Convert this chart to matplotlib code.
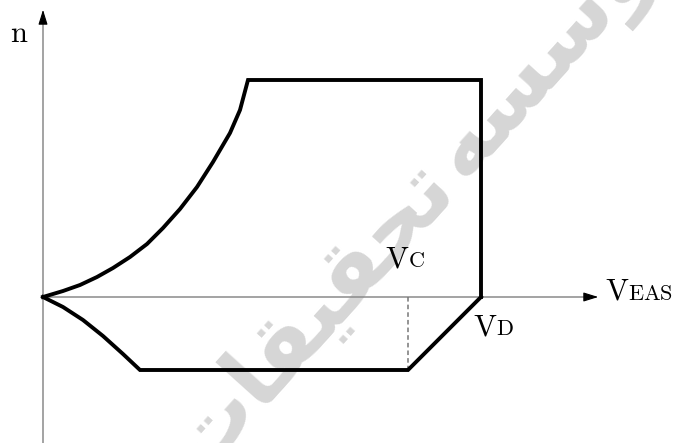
import matplotlib
matplotlib.use("Agg")
import matplotlib.pyplot as plt

plt.rcParams["mathtext.fontset"] = "cm"

# curve values (units = pixels from the origin)
upper_x = [0, 20, 37, 54, 70, 87, 104, 120, 137, 154, 170, 187, 197, 205]
upper_y = [0, 6, 12, 20, 29, 40, 53, 69, 88, 110, 135, 164, 187, 217]
n_max = 217
v_d = 438
v_c = 365
lower_x = [0, 20, 40, 60, 80, 97]
lower_y = [0, -10, -23, -39, -57, -73]
n_min = -73

# Persian watermark "موسسه تحقیقات", presentation forms in visual order
wm_left = "\uFE95\uFE8E\uFED8\uFEF4\uFED8\uFEA4\uFE97"
wm_right = "\uFEEA\uFEB4\uFEB3\uFEEE\uFEE3"

fig = plt.figure(figsize=(6.74, 4.43), dpi=100)
ax = fig.add_axes([0, 0, 1, 1])
ax.set_xlim(-43, 631)
ax.set_ylim(-146, 297)
ax.axis("off")

wm = dict(rotation=48, rotation_mode="anchor", va="center", fontsize=64,
          color="#d6d6d6", family="DejaVu Sans", fontweight="bold", zorder=1)
ax.text(396, 124, wm_left, ha="right", **wm)
ax.text(404, 130, wm_right, ha="left", **wm)

# axes with arrows
ax.plot([0, 545], [0, 0], color="#8a8a8a", lw=1.1, zorder=2)
ax.plot([0, 0], [-146, 278], color="#8a8a8a", lw=1.1, zorder=2)
arrow = dict(arrowstyle="-|>,head_length=0.9,head_width=0.28", color="black", lw=0.8)
ax.annotate("", xy=(558, 0), xytext=(540, 0), arrowprops=arrow, zorder=3)
ax.annotate("", xy=(0, 290), xytext=(0, 272), arrowprops=arrow, zorder=3)

# envelope
ax.plot(upper_x + [v_d, v_d], upper_y + [n_max, 0], color="black", lw=2.8,
        solid_joinstyle="miter", zorder=4)
ax.plot(lower_x + [v_c, v_d], lower_y + [n_min, 0], color="black", lw=2.8,
        solid_joinstyle="miter", zorder=4)
ax.plot([v_c, v_c], [0, n_min], color="#777777", lw=1.1, ls=(0, (3, 2)), zorder=3)


def sc_label(x, y, big, small):
    # big V followed by small caps
    t = ax.text(x, y, r"$\mathrm{%s}$" % big, fontsize=22, ha="left", va="baseline")
    fig.canvas.draw()
    bb = t.get_window_extent()
    x1 = ax.transData.inverted().transform((bb.x1, bb.y0))[0]
    ax.text(x1 - 1, y, r"$\mathrm{%s}$" % small, fontsize=16, ha="left", va="baseline")


ax.text(-23.5, 263.5, r"$\mathrm{n}$", fontsize=22, ha="center", va="center")
sc_label(562, -3, "V", "EAS")
sc_label(342, 30, "V", "C")
sc_label(430, -38, "V", "D")

fig.savefig("out.png", dpi=100)
